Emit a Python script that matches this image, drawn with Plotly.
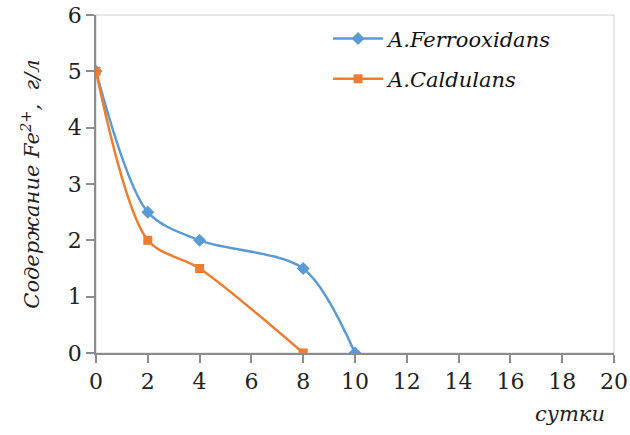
import plotly.graph_objects as go

# Days of cultivation and Fe2+ content (g/l)
days_ferro = [0, 2, 4, 8, 10]
fe_ferro = [5, 2.5, 2, 1.5, 0]

days_cald = [0, 2, 4, 8]
fe_cald = [5, 2, 1.5, 0]

x_ticks = [0, 2, 4, 6, 8, 10, 12, 14, 16, 18, 20]
y_ticks = [0, 1, 2, 3, 4, 5, 6]

BLUE = "#5B9BD5"
ORANGE = "#ED7D31"
AXIS = "#8C8C8C"
FONT = "DejaVu Serif"
TEXT = "#222222"

fig = go.Figure()
fig.add_trace(go.Scatter(
    x=days_ferro, y=fe_ferro, mode="lines+markers",
    name="<i>A.Ferrooxidans</i>", legendgroup="a",
    line=dict(color=BLUE, width=2.5, shape="spline", smoothing=0.85),
    marker=dict(symbol="diamond", size=10, color=BLUE),
))
fig.add_trace(go.Scatter(
    x=days_cald, y=fe_cald, mode="lines+markers",
    name="<i>A.Caldulans</i>", legendgroup="b",
    line=dict(color=ORANGE, width=2.5, shape="spline", smoothing=0.85),
    marker=dict(symbol="square", size=9, color=ORANGE),
))

# light frame around the plotting area
fig.add_shape(type="rect", xref="paper", yref="paper", x0=0, y0=0, x1=1, y1=1,
              line=dict(color="#D0D0D0", width=1), layer="below")

fig.update_layout(
    width=630, height=435,
    margin=dict(l=96, r=16, t=15, b=82),
    paper_bgcolor="white", plot_bgcolor="white",
    font=dict(family=FONT, size=22, color=TEXT),
    showlegend=True,
    legend=dict(
        x=0.448, y=0.99, xanchor="left", yanchor="top",
        font=dict(family=FONT, size=21, color="#111111"),
        bgcolor="rgba(0,0,0,0)", tracegroupgap=10, itemwidth=50,
    ),
    xaxis=dict(
        range=[0, 20], tickvals=x_ticks, ticktext=[str(v) for v in x_ticks],
        showgrid=False, zeroline=False, automargin=False,
        showline=True, linecolor=AXIS, linewidth=1.5,
        ticks="outside", ticklen=8, tickcolor=AXIS, tickwidth=1.5,
        tickfont=dict(family=FONT, size=22, color=TEXT),
    ),
    yaxis=dict(
        range=[0, 6], tickvals=y_ticks, ticktext=[str(v) for v in y_ticks],
        showgrid=False, zeroline=False, automargin=False,
        showline=True, linecolor=AXIS, linewidth=1.5,
        ticks="outside", ticklen=8, tickcolor=AXIS, tickwidth=1.5,
        tickfont=dict(family=FONT, size=22, color=TEXT),
        title=dict(text="<i>Содержание Fe<sup>2+</sup>,\u00a0\u00a0г/л</i>",
                   font=dict(family=FONT, size=21, color=TEXT), standoff=22),
    ),
)

fig.add_annotation(
    text="<i>сутки</i>", xref="paper", yref="paper",
    x=0.915, y=-0.18, xanchor="center", yanchor="middle",
    showarrow=False, font=dict(family=FONT, size=21, color=TEXT),
)

fig.write_html("out.html")
